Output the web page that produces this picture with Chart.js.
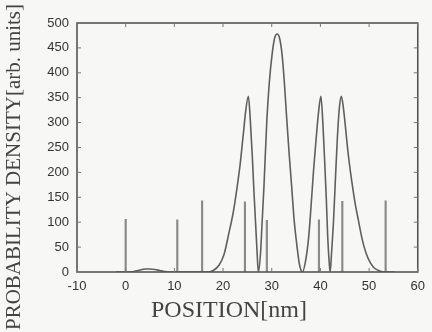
<!DOCTYPE html>
<html>
<head>
<meta charset="utf-8">
<script src="https://cdn.jsdelivr.net/npm/chart.js@4/dist/chart.umd.min.js"></script>
<style>
  body { margin: 0; background: #f7f7f5; }
  canvas { display: block; }
</style>
</head>
<body>
<canvas id="density-chart" width="432" height="332"></canvas>
<script>
// probability density curve
const curveX = [-2, 0, 1, 2, 3, 4, 5, 6, 7, 8, 9, 10, 15, 17, 18, 19.2, 20.2, 21.2, 22.1, 22.9, 23.5, 23.9, 24.3, 24.6, 25.2,
	25.6, 26.0, 26.3, 26.7, 27.0, 27.25, 27.7, 28.0, 28.4, 29.0, 29.5, 30.1, 30.6, 31.1, 31.6, 32.1, 32.6, 33.1, 33.6, 34.1,
	34.6, 35.2, 35.7, 36.3, 37.0, 37.6, 38.1, 38.6, 39.1, 39.6, 40.1, 40.5, 40.8, 41.2, 41.5, 41.8, 42.0, 42.3, 42.7, 43.1,
	43.5, 43.9, 44.3, 44.65, 45.0, 45.7, 46.4, 47.1, 47.8, 48.6, 49.4, 50.3, 51.2, 52.2, 53.1, 55.2];
const curveY = [0, 0, 0, 2, 4, 6, 6, 5, 3, 1, 0, 0, 0, 0, 3, 14, 35, 78, 120, 171, 215, 252, 290, 319, 353,
	305, 235, 171, 95, 38, 0, 38, 95, 171, 305, 380, 439, 470, 478, 470, 439, 380, 305, 235, 171,
	105, 51, 15, 0, 25, 71, 135, 205, 265, 319, 353, 300, 238, 150, 71, 20, 0, 40, 104, 190,
	272, 330, 353, 335, 305, 238, 185, 140, 104, 65, 37, 18, 7, 2, 0, 0];

// vertical sticks
const stickX = [0, 10.6, 15.7, 24.5, 29.0, 39.7, 44.5, 53.4];
const stickY = [106, 105, 143, 141, 104, 105, 142, 143];

const xTicks = [-10, 0, 10, 20, 30, 40, 50, 60];
const yTicks = [0, 50, 100, 150, 200, 250, 300, 350, 400, 450, 500];

const xTitle = "POSITION[nm]";
const yTitle = "PROBABILITY DENSITY[arb. units]";

const ctx = document.getElementById("density-chart").getContext("2d");

const framePlugin = {
	id: "frame",
	afterDraw(chart) {
		const { ctx, chartArea: a, scales } = chart;
		const line = (x1, y1, x2, y2) => {
			ctx.beginPath();
			ctx.moveTo(x1, y1);
			ctx.lineTo(x2, y2);
			ctx.stroke();
		};
		ctx.save();
		ctx.strokeStyle = "#555";
		ctx.lineWidth = 1.6;
		ctx.strokeRect(a.left, a.top, a.right - a.left, a.bottom - a.top);
		ctx.lineWidth = 1;
		ctx.strokeStyle = "#777";
		yTicks.forEach((v) => {
			const py = scales.y.getPixelForValue(v);
			line(a.left, py, a.left + 4, py);
			line(a.right - 4, py, a.right, py);
		});
		xTicks.forEach((v) => {
			const px = scales.x.getPixelForValue(v);
			line(px, a.top, px, a.top + 4);
			line(px, a.bottom - 4, px, a.bottom);
		});

		// axis titles
		ctx.fillStyle = "#444";
		ctx.font = '24px "Liberation Serif"';
		ctx.textAlign = "center";
		ctx.textBaseline = "alphabetic";
		ctx.fillText(xTitle, 229, 317);

		ctx.translate(14, 167);
		ctx.rotate(-Math.PI / 2);
		ctx.font = '21px "Liberation Serif"';
		ctx.textBaseline = "middle";
		ctx.fillText(yTitle, 0, 0);
		ctx.restore();
	},
};

const data = {
	datasets: [
		{
			type: "line",
			data: curveX.map((x, i) => ({ x, y: curveY[i] })),
			borderColor: "#5f5f5f",
			borderWidth: 1.6,
			pointRadius: 0,
			cubicInterpolationMode: "monotone",
			fill: false,
		},
		{
			type: "bar",
			data: stickX.map((x, i) => ({ x, y: stickY[i] })),
			backgroundColor: "#8a8a8a",
			barThickness: 1.5,
			grouped: false,
		},
	],
};

const config = {
	type: "line",
	data: data,
	options: {
		responsive: false,
		animation: false,
		layout: {
			padding: { left: 0, right: 12, top: 23, bottom: 0 },
		},
		plugins: {
			legend: { display: false },
			tooltip: { enabled: false },
		},
		scales: {
			x: {
				type: "linear",
				offset: false,
				min: -10,
				max: 60,
				afterFit(scale) {
					scale.height = 60;
				},
				afterBuildTicks(scale) {
					scale.ticks = xTicks.map((v) => ({ value: v }));
				},
				grid: { display: false, drawTicks: false, offset: false },
				border: { display: false },
				ticks: {
					maxRotation: 0,
					padding: 7,
					color: "#333",
					font: { family: "Liberation Sans", size: 13 },
				},
			},
			y: {
				min: 0,
				max: 500,
				afterFit(scale) {
					scale.width = 77;
				},
				afterBuildTicks(scale) {
					scale.ticks = yTicks.map((v) => ({ value: v }));
				},
				grid: { display: false, drawTicks: false },
				border: { display: false },
				ticks: {
					padding: 8,
					color: "#333",
					font: { family: "Liberation Sans", size: 13 },
				},
			},
		},
	},
	plugins: [framePlugin],
};

const chart = new Chart(ctx, config);
</script>
</body>
</html>
